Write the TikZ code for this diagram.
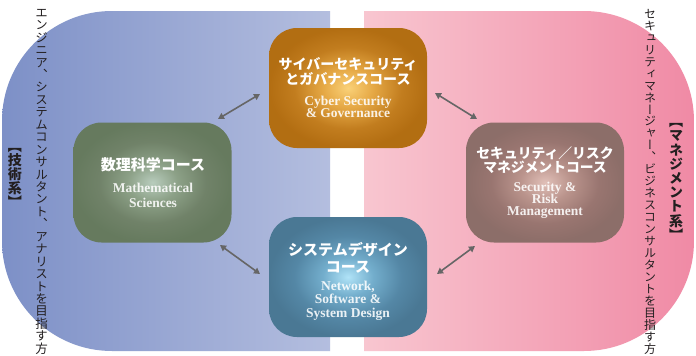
\documentclass[tikz,border=0pt]{standalone}
\usepackage{fontspec}
\usetikzlibrary{arrows.meta}
\newfontfamily\jp{Noto Sans CJK JP}
\newfontfamily\jpv[RawFeature=+vert]{Noto Sans CJK JP}
\newfontfamily\en{Liberation Serif}
\definecolor{blueL}{HTML}{7D90C7}
\definecolor{blueR}{HTML}{B4BEDF}
\definecolor{pinkL}{HTML}{F8C6D0}
\definecolor{pinkR}{HTML}{F08AA5}
\definecolor{arrowgray}{HTML}{666666}
\definecolor{ink}{HTML}{231F20}
\pgfdeclareradialshading{glowO}{\pgfpoint{0bp}{0bp}}{rgb(0bp)=(0.98,0.82,0.47); rgb(8bp)=(0.90,0.66,0.27); rgb(17bp)=(0.76,0.49,0.12); rgb(25bp)=(0.70,0.43,0.07); rgb(50bp)=(0.70,0.43,0.07)}
\pgfdeclareradialshading{glowG}{\pgfpoint{0bp}{0bp}}{rgb(0bp)=(0.72,0.80,0.74); rgb(8bp)=(0.55,0.63,0.53); rgb(17bp)=(0.44,0.51,0.41); rgb(25bp)=(0.40,0.48,0.37); rgb(50bp)=(0.40,0.48,0.37)}
\pgfdeclareradialshading{glowR}{\pgfpoint{0bp}{0bp}}{rgb(0bp)=(0.88,0.75,0.72); rgb(8bp)=(0.73,0.58,0.55); rgb(17bp)=(0.60,0.46,0.44); rgb(25bp)=(0.55,0.43,0.41); rgb(50bp)=(0.55,0.43,0.41)}
\pgfdeclareradialshading{glowN}{\pgfpoint{0bp}{0bp}}{rgb(0bp)=(0.69,0.89,0.97); rgb(8bp)=(0.45,0.68,0.80); rgb(17bp)=(0.33,0.53,0.65); rgb(25bp)=(0.29,0.47,0.58); rgb(50bp)=(0.29,0.47,0.58)}
\def\myvtloop#1{\ifx\relax#1\else\hbox to 1em{\hss#1\hss}\expandafter\myvtloop\fi}
\newcommand\mystack[2]{\vbox{\baselineskip=#1\lineskiplimit=-\maxdimen\lineskip=0pt\myvtloop#2\relax}}
\newcommand\tightls{\lineskiplimit=-20pt\relax}
\begin{document}
\begin{tikzpicture}[x=1pt,y=-1pt,
  course/.style={shade, minimum width=158pt, minimum height=120pt, rounded corners=28pt, inner sep=0pt},
  jptitle/.style={text=white, align=center, inner sep=0pt},
  entitle/.style={text=white, text opacity=0.88, align=center, inner sep=0pt},
  link/.style={draw=arrowgray, line width=1.6pt, {Triangle[length=6pt,width=6.5pt]}-{Triangle[length=6pt,width=6.5pt]}},
  sidetext/.style={text=ink, inner sep=0pt}]
\fill[white] (0,0) rectangle (696,356);
\useasboundingbox (0,0) rectangle (696,356);
\begin{scope}
  \clip[rounded corners=110pt] (2,11) rectangle (690,351);
  \shade[left color=blueL, right color=blueR] (2,11) rectangle (330,351);
\end{scope}
\begin{scope}
  \clip[rounded corners=110pt] (6,11) rectangle (694,351);
  \shade[left color=pinkL, right color=pinkR] (364,11) rectangle (694,351);
\end{scope}
% course boxes
\node[course, shading=glowO] (cyber) at (348,88) {};
\node[course, shading=glowG] (math) at (152.5,182.5) {};
\node[course, shading=glowR] (risk) at (545,182.5) {};
\node[course, shading=glowN] (net) at (348,277) {};
% titles
\node[jptitle, font=\jp\bfseries\fontsize{14}{15}\selectfont\tightls] (cyberjp) at (348,71.5) {サイバーセキュリティ\\とガバナンスコース};
\node[entitle, font=\en\bfseries\fontsize{13.5}{12}\selectfont\tightls] (cyberen) at (348,107) {Cyber Security\\\& Governance};
\node[jptitle, font=\jp\bfseries\fontsize{15}{16}\selectfont] (mathjp) at (153,164.5) {数理科学コース};
\node[entitle, font=\en\bfseries\fontsize{13.5}{15}\selectfont\tightls] (mathen) at (153,195) {Mathematical\\Sciences};
\node[jptitle, font=\jp\bfseries\fontsize{13.8}{14}\selectfont\tightls] (riskjp) at (545,160.5) {セキュリティ／リスク\\マネジメントコース};
\node[entitle, font=\en\bfseries\fontsize{13.5}{12}\selectfont\tightls] (risken) at (545,200) {Security \&\\Risk\\Management};
\node[jptitle, font=\jp\bfseries\fontsize{15}{16.5}\selectfont\tightls] (netjp) at (348,258) {システムデザイン\\コース};
\node[entitle, font=\en\bfseries\fontsize{13.5}{13.5}\selectfont\tightls] (neten) at (348,300.5) {Network,\\Software \&\\System Design};
% arrows
\coordinate (a1) at (218,119); \coordinate (a2) at (260,94);
\coordinate (b1) at (435,93);  \coordinate (b2) at (477,119);
\coordinate (c1) at (220,245); \coordinate (c2) at (260,274);
\coordinate (d1) at (437,274); \coordinate (d2) at (475,246);
\draw[link] (a1) -- (a2);
\draw[link] (b1) -- (b2);
\draw[link] (c1) -- (c2);
\draw[link] (d1) -- (d2);
% side texts
\node[sidetext, anchor=north, font=\jpv\fontsize{12.5}{12.5}\selectfont] (lefttext) at (41.5,9) {\mystack{12.44pt}{エンジニア、システムコンサルタント、アナリストを目指す方}};
\node[sidetext, anchor=north, font=\jpv\fontsize{12}{12}\selectfont] (righttext) at (650,9) {\mystack{11.96pt}{セキュリティマネージャー、ビジネスコンサルタントを目指す方}};
\node[sidetext, font=\jpv\bfseries\fontsize{14}{14}\selectfont] (techlabel) at (15,178) {\mystack{14pt}{【技術系】}};
\node[sidetext, font=\jpv\bfseries\fontsize{14}{14}\selectfont] (mgmtlabel) at (676,182) {\mystack{14.2pt}{【マネジメント系】}};
\end{tikzpicture}
\end{document}
